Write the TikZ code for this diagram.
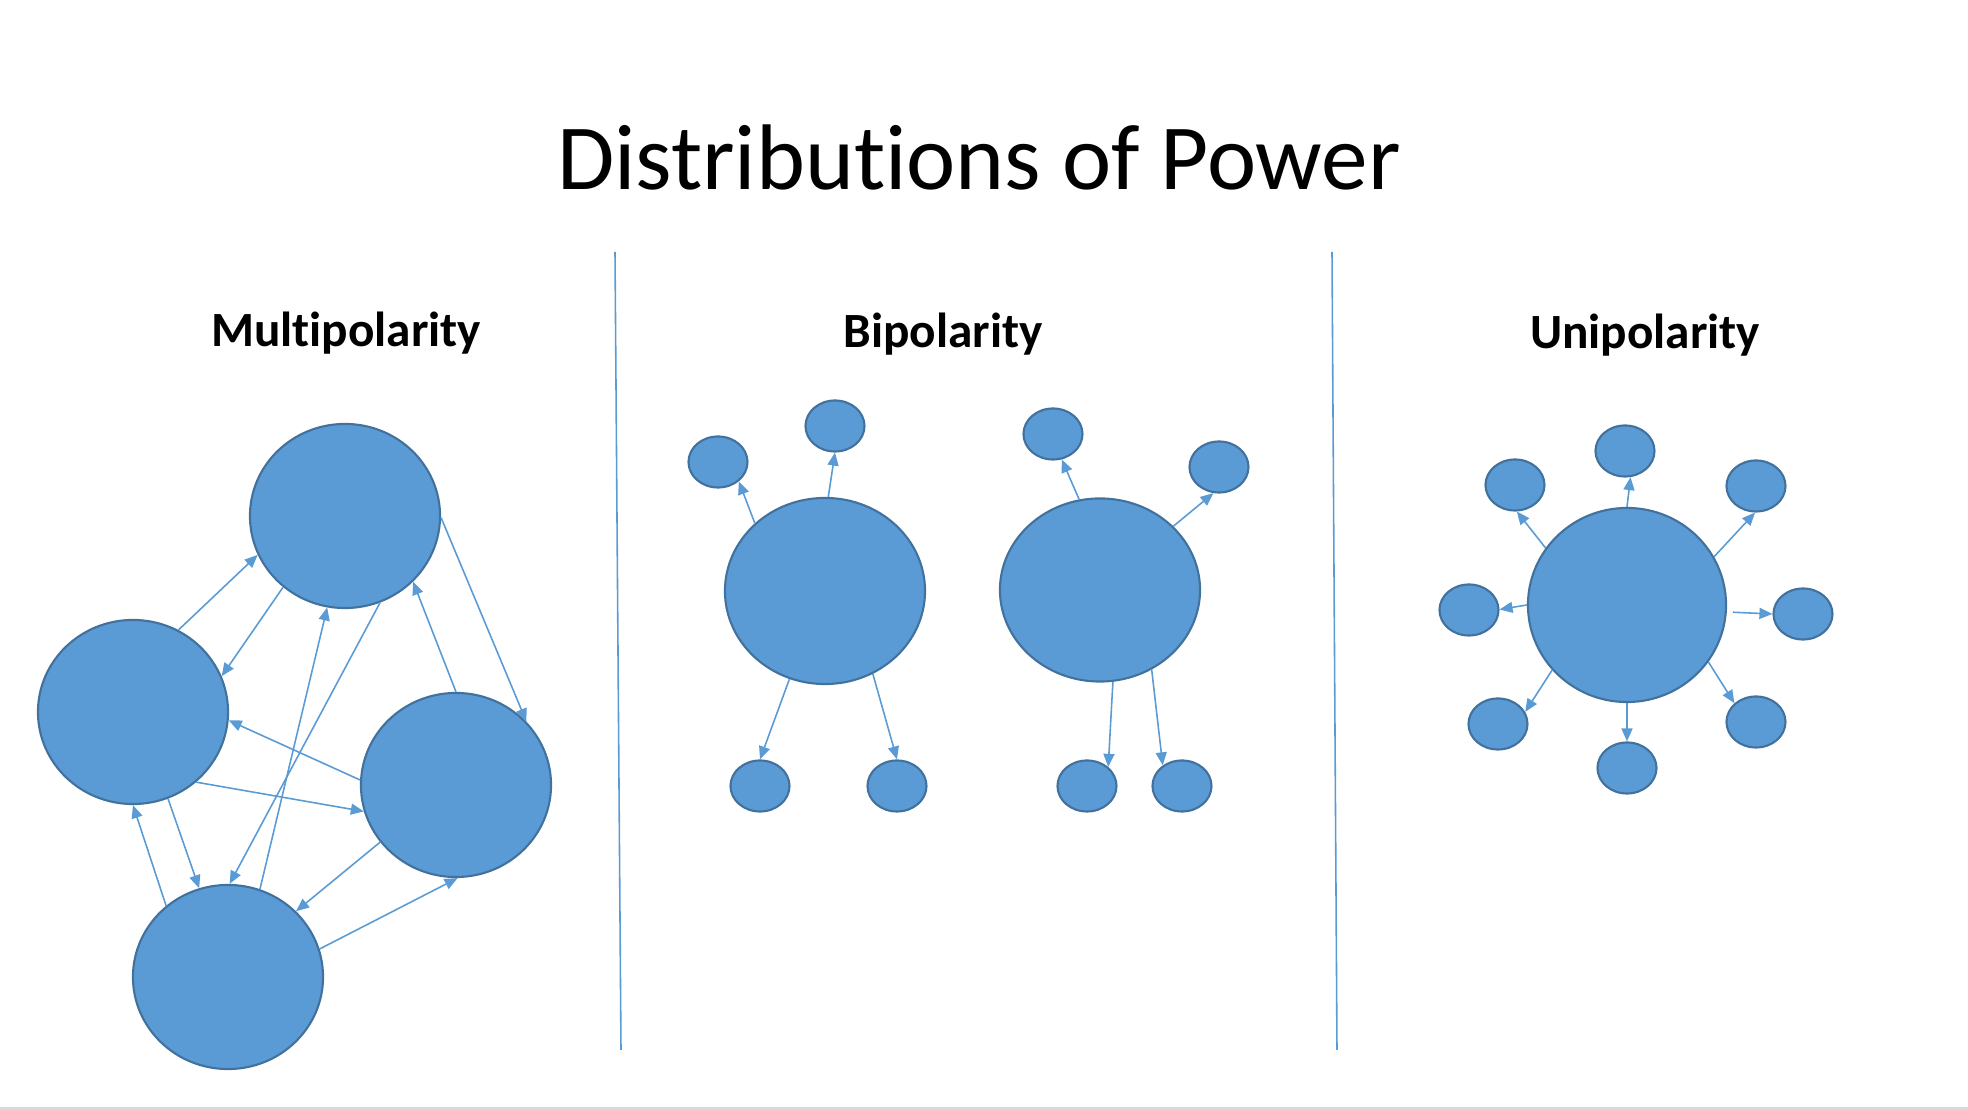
\documentclass[tikz,border=0pt]{standalone}
\usepackage{fontspec}
\setmainfont[Ligatures={NoCommon}]{Carlito}
\usetikzlibrary{shapes.geometric,arrows.meta}
\definecolor{powerfill}{HTML}{5B9BD5}
\definecolor{powerdraw}{HTML}{41719C}
\definecolor{linkblue}{HTML}{5B9BD5}
\definecolor{slideedge}{HTML}{D9D9D9}

\begin{document}
\begin{tikzpicture}[x=0.01cm, y=-0.01cm,
    pole/.style={ellipse, draw=powerdraw, fill=powerfill, line width=0.6pt, inner sep=0pt, minimum width=1.9cm, minimum height=1.84cm},
    great/.style={pole, minimum width=2cm, minimum height=1.86cm},
    minor/.style={pole, minimum width=0.59cm, minimum height=0.51cm},
    arrow/.style={draw=linkblue, line width=0.45pt, -{Triangle[length=1.3mm,width=1.1mm]}},
    divider/.style={draw=linkblue, line width=0.45pt},
    heading/.style={anchor=base, font=\fontsize{14}{17}\selectfont\bfseries}
]
\useasboundingbox (0,0) rectangle (1968,1110);
\fill[slideedge] (0,1107) rectangle (1968,1110);

% TITLE
\node[anchor=base, font=\fontsize{26.5}{31}\selectfont] (title) at (979,190) {Distributions of Power};

% Dividers
\coordinate (d1top) at (615,252);
\coordinate (d1bot) at (621,1050);
\coordinate (d2top) at (1332,252);
\coordinate (d2bot) at (1337,1050);
\draw[divider] (d1top) -- (d1bot);
\draw[divider] (d2top) -- (d2bot);

% MULTIPOLARITY
\node[heading] (multi) at (346,347) {Multipolarity};

\node[pole] (mTop) at (345,516) {};
\node[pole] (mLeft) at (133,712) {};
\node[pole] (mRight) at (456,785) {};
\node[pole] (mBottom) at (228,977) {};

\draw[arrow] (mLeft.61) -- (mTop.204);
\draw[arrow] (mTop.229) -- (mLeft.22);
\draw[arrow] (mTop.-1) -- (mRight.42);
\draw[arrow] (mRight.90) -- (mTop.316);
\draw[arrow] (mBottom.70) -- (mTop.259);
\draw[arrow] (mTop.292) -- (mBottom.89);
\draw[arrow] (mRight.177) -- (mLeft.355);
\draw[arrow] (mLeft.312) -- (mRight.196);
\draw[arrow] (mBottom.131) -- (mLeft.270);
\draw[arrow] (mLeft.292) -- (mBottom.108);
\draw[arrow] (mRight.217) -- (mBottom.44);
\draw[arrow] (mBottom.17) -- (mRight.271);

% BIPOLARITY
\node[heading] (bi) at (943,348) {Bipolarity};

\node[great] (bigA) at (825,591) {};
\node[minor] (a1) at (718,462) {};
\node[minor] (a2) at (835,426) {};
\node[minor] (a3) at (760,786) {};
\node[minor] (a4) at (897,786) {};

\node[great, minimum height=1.83cm] (bigB) at (1100,590) {};
\node[minor] (b1) at (1053,434) {};
\node[minor] (b2) at (1219,467) {};
\node[minor] (b3) at (1087,786) {};
\node[minor] (b4) at (1182,786) {};

\draw[arrow] (bigA.136) -- (a1.317);
\draw[arrow] (bigA.88) -- (a2.270);
\draw[arrow] (bigA.248) -- (a3.90);
\draw[arrow] (bigA.300) -- (a4.90);

\draw[arrow] (bigB.103) -- (b1.289);
\draw[arrow] (bigB.41) -- (b2.258);
\draw[arrow] (bigB.278) -- (b3.42);
\draw[arrow] (bigB.303) -- (b4.133);

% UNIPOLARITY
\node[heading] (uni) at (1645,349) {Unipolarity};

\node[great, minimum width=1.98cm, minimum height=1.94cm] (hegemon) at (1627,605) {};
\node[minor] (u1) at (1625,451) {};
\node[minor] (u2) at (1756,486) {};
\node[minor] (u3) at (1803,614) {};
\node[minor] (u4) at (1756,722) {};
\node[minor] (u5) at (1627,768) {};
\node[minor] (u6) at (1498,724) {};
\node[minor] (u7) at (1469,610) {};
\node[minor] (u8) at (1515,485) {};

\draw[arrow] (hegemon.90) -- (u1.282);
\draw[arrow] (hegemon.29) -- (u2.268);
\draw[arrow, shorten <=0.06cm] (hegemon.-4) -- (u3.180);
\draw[arrow] (hegemon.325) -- (u4.139);
\draw[arrow] (hegemon.270) -- (u5.90);
\draw[arrow] (hegemon.221) -- (u6.24);
\draw[arrow] (hegemon.180) -- (u7.1);
\draw[arrow] (hegemon.145) -- (u8.274);

\end{tikzpicture}
\end{document}
